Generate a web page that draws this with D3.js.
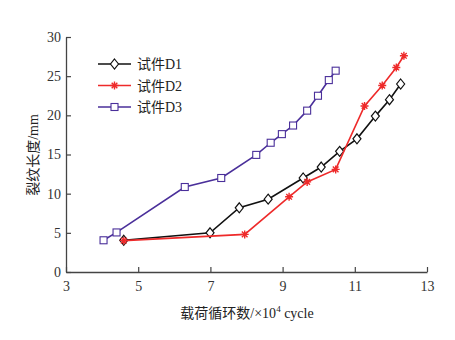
<!DOCTYPE html>
<html><head><meta charset="utf-8">
<script src="https://cdn.jsdelivr.net/npm/d3@7/dist/d3.min.js"></script>
<style>body{margin:0;background:#fff}svg{display:block}</style>
</head><body>
<svg id="c" width="455" height="340"></svg>
<script>
const seriesNames = ["试件D1", "试件D2", "试件D3"];
const d1x = [4.6, 6.99, 7.8, 8.6, 9.57, 10.07, 10.58, 11.06, 11.57, 11.96, 12.27];
const d1y = [4.05, 5.0, 8.2, 9.3, 12.0, 13.4, 15.4, 17.0, 19.9, 22.0, 24.0];
const d2x = [4.6, 7.95, 9.18, 9.68, 10.47, 11.27, 11.76, 12.15, 12.36];
const d2y = [4.0, 4.8, 9.6, 11.5, 13.1, 21.2, 23.8, 26.1, 27.6];
const d3x = [4.04, 4.4, 6.29, 7.3, 8.27, 8.67, 8.98, 9.29, 9.68, 9.98, 10.28, 10.47];
const d3y = [4.05, 5.05, 10.85, 12.0, 14.95, 16.5, 17.6, 18.7, 20.6, 22.5, 24.5, 25.7];
const xTicks = [3, 5, 7, 9, 11, 13];
const yTicks = [0, 5, 10, 15, 20, 25, 30];

const colors = ["#111111", "#ee2a2a", "#4a2f9a"];
const markers = ["diamond", "star", "square"];
const serif = "'Liberation Serif','Noto Sans CJK SC',serif";

const svg = d3.select("#c");
const x = d3.scaleLinear().domain([3, 13]).range([66, 427]);
const y = d3.scaleLinear().domain([0, 30]).range([272, 37]);

const axisColor = "#444";
// axes
const gx = svg.append("g").attr("transform", `translate(0,${y(0)})`)
  .call(d3.axisBottom(x).tickValues(xTicks).tickSizeInner(-5).tickSizeOuter(0).tickPadding(9));
const gy = svg.append("g").attr("transform", `translate(${x(3)},0)`)
  .call(d3.axisLeft(y).tickValues(yTicks).tickSizeInner(-5).tickSizeOuter(0).tickPadding(5));
[gx, gy].forEach(g => {
  g.select(".domain").attr("stroke", axisColor).attr("stroke-width", 1.3);
  g.selectAll(".tick line").attr("stroke", axisColor).attr("stroke-width", 1.2);
  g.selectAll(".tick text").attr("fill", "#333").style("font-family", serif).style("font-size", "14px");
});

function drawMarker(g, type, cx, cy, color) {
  if (type === "diamond") {
    g.append("path").attr("d", `M${cx},${cy-5}L${cx+4},${cy}L${cx},${cy+5}L${cx-4},${cy}Z`)
      .attr("fill", "#fff").attr("stroke", color).attr("stroke-width", 1.2);
  } else if (type === "square") {
    g.append("rect").attr("x", cx-3.5).attr("y", cy-3.5).attr("width", 7).attr("height", 7)
      .attr("fill", "#fff").attr("stroke", color).attr("stroke-width", 1.1);
  } else {
    const r = 4;
    let d = "";
    for (let k = 0; k < 4; k++) {
      const a = k * Math.PI / 4;
      d += `M${cx - r*Math.cos(a)},${cy - r*Math.sin(a)}L${cx + r*Math.cos(a)},${cy + r*Math.sin(a)}`;
    }
    g.append("path").attr("d", d).attr("stroke", color).attr("stroke-width", 1.4).attr("fill", "none");
  }
}

const allX = [d1x, d2x, d3x], allY = [d1y, d2y, d3y];
const line = d3.line().x(d => x(d[0])).y(d => y(d[1]));
for (let s = 0; s < 3; s++) {
  const pts = allX[s].map((v, i) => [v, allY[s][i]]);
  const g = svg.append("g");
  g.append("path").attr("d", line(pts)).attr("fill", "none")
    .attr("stroke", colors[s]).attr("stroke-width", 1.6);
  pts.forEach(p => drawMarker(g, markers[s], x(p[0]), y(p[1]), colors[s]));
}

// legend
const lg = svg.append("g");
seriesNames.forEach((n, i) => {
  const ly = 64 + i * 21.5;
  lg.append("line").attr("x1", 98).attr("x2", 131).attr("y1", ly).attr("y2", ly)
    .attr("stroke", colors[i]).attr("stroke-width", 1.6);
  drawMarker(lg, markers[i], 114.5, ly, colors[i]);
  lg.append("text").attr("x", 137).attr("y", ly + 5).text(n)
    .style("font-family", serif).style("font-size", "14px").attr("fill", "#222");
});

// axis titles
const xt = svg.append("text").attr("x", 247).attr("y", 318).attr("text-anchor", "middle")
  .style("font-family", serif).style("font-size", "14px").attr("fill", "#222");
xt.append("tspan").text("载荷循环数/×10");
xt.append("tspan").attr("dy", -6).style("font-size", "9px").text("4");
xt.append("tspan").attr("dy", 6).text(" cycle");

svg.append("text").attr("transform", `translate(38,155) rotate(-90)`).attr("text-anchor", "middle")
  .style("font-family", serif).style("font-size", "14px").attr("fill", "#222").text("裂纹长度/mm");
</script>
</body></html>
